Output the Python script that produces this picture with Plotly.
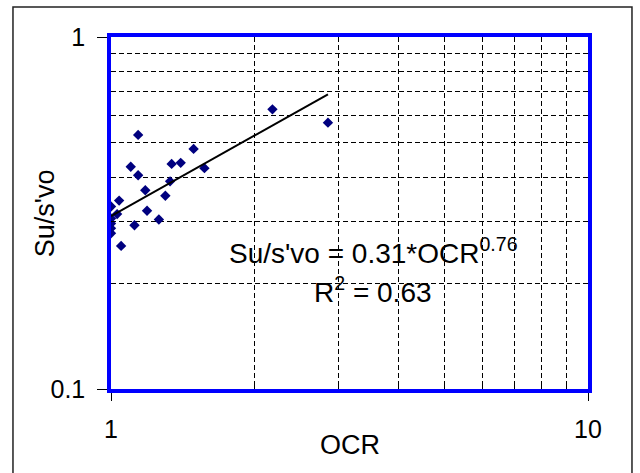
import plotly.graph_objects as go

# Measured overconsolidation ratio and normalised undrained strength
ocr = [2.18, 2.85, 1.14, 1.49, 1.10, 1.34, 1.40, 1.57, 1.14, 1.33,
       1.18, 1.30, 1.04, 1.00, 1.03, 1.19, 1.26, 1.12, 1.00, 1.00,
       1.00, 1.00, 1.05]
su_ratio = [0.623, 0.571, 0.527, 0.481, 0.428, 0.436, 0.439, 0.424, 0.405, 0.389,
            0.367, 0.354, 0.343, 0.330, 0.314, 0.321, 0.303, 0.292, 0.305, 0.295,
            0.286, 0.277, 0.255]

# Power-law fit reported on the chart
fit_coef = 0.31
fit_exp = 0.76
fit_r2 = 0.63
fit_x = [1.0, max(ocr)]
fit_y = [fit_coef * v ** fit_exp for v in fit_x]

x_ticks = [1, 10]
y_ticks = [0.1, 1]
x_minor = [2, 3, 4, 5, 6, 7, 8, 9]
y_minor = [0.2, 0.3, 0.4, 0.5, 0.6, 0.7, 0.8, 0.9]

FONT = "Liberation Sans, Arial, sans-serif"
GRID_DASH = "5px,3px"

fig = go.Figure()
fig.add_trace(go.Scatter(
    x=ocr, y=su_ratio, mode="markers",
    marker=dict(symbol="diamond", size=8, color="#00007F"),
    showlegend=False, hoverinfo="skip",
))
fig.add_trace(go.Scatter(
    x=fit_x, y=fit_y, mode="lines",
    line=dict(color="black", width=2),
    showlegend=False, hoverinfo="skip",
))

axis_common = dict(
    type="log",
    showgrid=False,
    zeroline=False,
    showline=True,
    linecolor="#0000FF",
    linewidth=3.5,
    mirror=True,
    tickmode="array",
    tickcolor="black",
    tickwidth=1,
    ticks="outside",
    tickfont=dict(family=FONT, size=25, color="black"),
)

fig.update_layout(
    width=640, height=473,
    margin=dict(l=111, r=52, t=37, b=84),
    paper_bgcolor="white",
    plot_bgcolor="white",
    font=dict(family=FONT, color="black"),
    xaxis=dict(
        axis_common,
        range=[0, 1],
        tickvals=x_ticks,
        ticktext=["1", "10"],
        ticklen=8,
        ticklabelstandoff=7,
        minor=dict(tickmode="array", tickvals=x_minor, ticks="inside",
                   ticklen=5, tickcolor="black", showgrid=True,
                   gridcolor="black", gridwidth=1, griddash=GRID_DASH),
    ),
    yaxis=dict(
        axis_common,
        range=[-1, 0],
        tickvals=y_ticks,
        ticktext=["0.1", "1"],
        ticklen=10,
        ticklabelstandoff=7,
        minor=dict(tickmode="array", tickvals=y_minor, ticks="inside",
                   ticklen=5, tickcolor="black", showgrid=True,
                   gridcolor="black", gridwidth=1, griddash=GRID_DASH),
    ),
    annotations=[
        dict(text="OCR", xref="paper", yref="paper", x=0.5, y=-0.159,
             showarrow=False, font=dict(family=FONT, size=27),
             xanchor="center", yanchor="middle"),
        dict(text="Su/s'vo", xref="paper", yref="paper", x=-0.138, y=0.5,
             showarrow=False, textangle=-90, font=dict(family=FONT, size=27),
             xanchor="center", yanchor="middle"),
        dict(text=f"Su/s'vo = {fit_coef}*OCR<sup>{fit_exp}</sup>",
             xref="paper", yref="paper", x=0.55, y=0.392,
             showarrow=False, font=dict(family=FONT, size=28),
             xanchor="center", yanchor="middle"),
        dict(text=f"R<sup>2</sup> = {fit_r2}",
             xref="paper", yref="paper", x=0.55, y=0.281,
             showarrow=False, font=dict(family=FONT, size=28),
             xanchor="center", yanchor="middle"),
    ],
    shapes=[
        dict(type="rect", xref="paper", yref="paper",
             x0=-0.2055, x1=1.0922, y0=-0.26, y1=1.0852,
             line=dict(color="#222222", width=1.5), fillcolor="rgba(0,0,0,0)",
             layer="below"),
    ],
)

fig.write_html("out.html")
